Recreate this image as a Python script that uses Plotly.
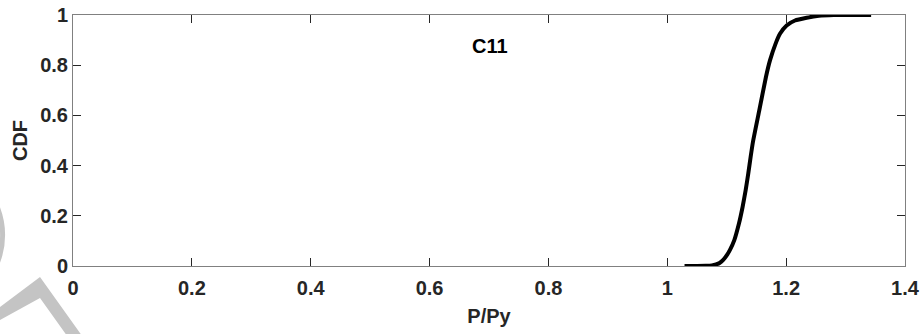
import plotly.graph_objects as go

# CDF curve
p_py = [1.029, 1.05, 1.065, 1.075, 1.082, 1.088, 1.0941, 1.1, 1.1055, 1.1128,
        1.1207, 1.1268, 1.1319, 1.1363, 1.1403, 1.1442, 1.1548, 1.166, 1.1728,
        1.1823, 1.1896, 1.2008, 1.2149, 1.2345, 1.255, 1.28, 1.343]
cdf = [0.0, 0.0, 0.0005, 0.002, 0.006, 0.012, 0.024, 0.042, 0.064, 0.103,
       0.170, 0.236, 0.302, 0.369, 0.435, 0.495, 0.620, 0.753, 0.819,
       0.886, 0.925, 0.958, 0.978, 0.989, 0.997, 1.0, 1.0]

x_ticks = [0, 0.2, 0.4, 0.6, 0.8, 1, 1.2, 1.4]
x_tick_labels = ["0", "0.2", "0.4", "0.6", "0.8", "1", "1.2", "1.4"]
y_ticks = [0, 0.2, 0.4, 0.6, 0.8, 1]
y_tick_labels = ["0", "0.2", "0.4", "0.6", "0.8", "1"]

W, H = 922, 334
L, R, T, B = 73, 17, 15, 68
pw, ph = W - L - R, H - T - B

def px(xp):
    return (xp - L) / pw

def py(yp):
    return (H - B - yp) / ph

FONT = "Liberation Sans, Arial, sans-serif"
TXT = "#262626"
FS = 20

fig = go.Figure()
fig.add_trace(go.Scatter(
    x=p_py, y=cdf, mode="lines",
    line=dict(color="black", width=4, shape="spline", smoothing=0.5),
    showlegend=False, hoverinfo="skip",
))

axis_common = dict(
    showgrid=False, zeroline=False, showline=True, linecolor="#808080",
    linewidth=1, mirror="allticks", ticks="inside", ticklen=8,
    tickcolor=TXT, tickwidth=1, automargin=False,
    tickfont=dict(family=FONT, size=FS, color=TXT, weight="bold"),
)

fig.update_xaxes(
    range=[0, 1.4], tickvals=x_ticks, ticktext=x_tick_labels,
    ticklabelstandoff=4,
    title=dict(text="P/Py", font=dict(family=FONT, size=FS, color=TXT, weight="bold"),
               standoff=10),
    **axis_common,
)
fig.update_yaxes(
    range=[0, 1], tickvals=y_ticks, ticktext=y_tick_labels,
    title=dict(text="CDF", font=dict(family=FONT, size=FS, color=TXT, weight="bold"),
               standoff=7),
    **axis_common,
)

fig.add_annotation(
    x=0.7017, y=0.877, xref="x", yref="y", text="C11", showarrow=False,
    font=dict(family=FONT, size=FS, color="black", weight="bold"),
)

# faint watermark in bottom-left corner
WM = "#c4c4c4"
cx, cy, r = -73.0, 235.0, 75.6
fig.add_shape(type="circle", xref="paper", yref="paper",
              x0=px(cx - r), x1=px(cx + r), y0=py(cy + r), y1=py(cy - r),
              line=dict(color=WM, width=5), layer="below")
pts = [(0, 307), (40, 277), (85, 340), (70, 340), (40, 298), (0, 320)]
path = "M " + " L ".join(f"{px(a):.5f},{py(b):.5f}" for a, b in pts) + " Z"
fig.add_shape(type="path", xref="paper", yref="paper", path=path,
              fillcolor=WM, line=dict(width=0), layer="below")

fig.update_layout(
    width=W, height=H,
    margin=dict(l=L, r=R, t=T, b=B, autoexpand=False),
    paper_bgcolor="white", plot_bgcolor="white",
)

fig.write_html("out.html")
